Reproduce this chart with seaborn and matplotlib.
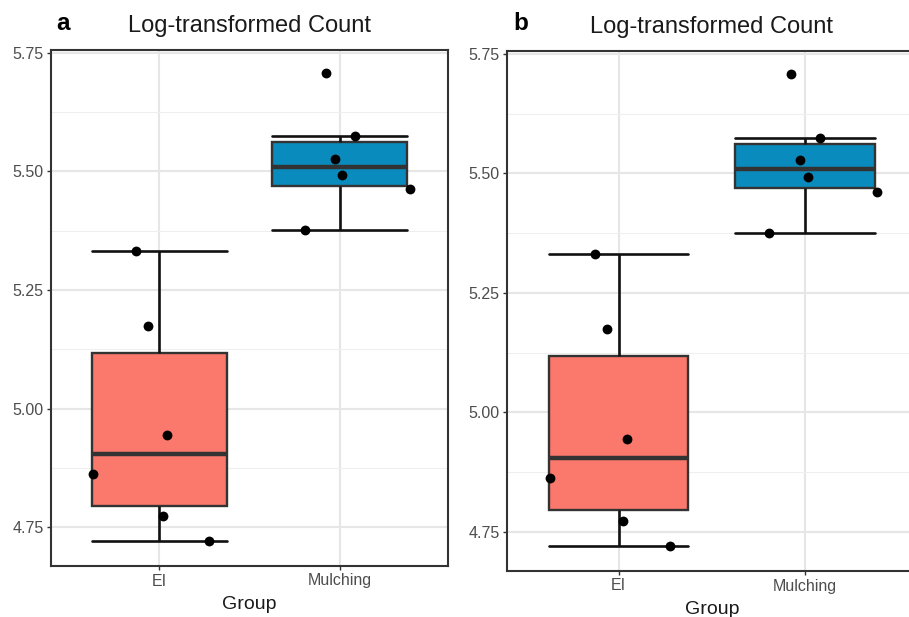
import numpy as np
import pandas as pd
import matplotlib
matplotlib.use("Agg")
import matplotlib.pyplot as plt
from matplotlib.ticker import FixedLocator
import seaborn as sns

# ---- data ----
groups = ["EI", "Mulching"]
ei_values = [5.332, 5.175, 4.945, 4.863, 4.773, 4.721]
mulch_values = [5.708, 5.574, 5.527, 5.492, 5.462, 5.376]
ei_jitter = [-0.128, -0.061, 0.044, -0.367, 0.022, 0.278]
mulch_jitter = [-0.074, 0.083, -0.024, 0.015, 0.390, -0.193]
y_ticks = [4.75, 5.00, 5.25, 5.50, 5.75]
y_tick_labels = ["4.75", "5.00", "5.25", "5.50", "5.75"]
panel_letters = ["a", "b"]
title = "Log-transformed Count"
xlabel = "Group"
colors = {"EI": "#FA786C", "Mulching": "#0A8BBE"}

df = pd.DataFrame({
    "Group": ["EI"] * len(ei_values) + ["Mulching"] * len(mulch_values),
    "value": ei_values + mulch_values,
    "jit": ei_jitter + mulch_jitter,
})
df["xpos"] = df["Group"].map({g: i for i, g in enumerate(groups)}) + df["jit"]

sns.set_theme(style="white")
plt.rcParams["font.family"] = ["Liberation Sans", "DejaVu Sans"]

W, H = 909, 617
fig = plt.figure(figsize=(W / 100, H / 100), dpi=100)

# pixel boxes: left, top, right, bottom
boxes = [(51, 50, 448, 566), (507, 51, 916.5, 571)]
letter_x = [56, 513]

for k, (l, t, r, b) in enumerate(boxes):
    ax = fig.add_axes([l / W, (H - b) / H, (r - l) / W, (b - t) / H])
    ax.set_axisbelow(True)
    sns.boxplot(
        data=df, x="Group", y="value", hue="Group", order=groups,
        hue_order=groups, palette=colors, width=0.75, showfliers=False,
        legend=False, ax=ax, saturation=1, whis=1.5,
        boxprops=dict(edgecolor="#333333", linewidth=1.7),
        medianprops=dict(color="#333333", linewidth=3.2),
        whiskerprops=dict(color="#111111", linewidth=1.9),
        capprops=dict(color="#111111", linewidth=1.9),
    )
    # widen caps to full box width (errorbar style)
    for line in ax.lines:
        xd = np.asarray(line.get_xdata(), dtype=float)
        yd = np.asarray(line.get_ydata(), dtype=float)
        if len(xd) == 2 and yd[0] == yd[1] and line.get_linewidth() < 2.5:
            c = xd.mean()
            line.set_xdata([c - 0.375, c + 0.375])
    sns.scatterplot(data=df, x="xpos", y="value", color="black", s=50,
                    edgecolor="black", linewidth=0, ax=ax, zorder=5)

    ax.set_xlim(-0.6, 1.6)
    ax.set_ylim(4.668, 5.756)
    ax.set_xticks(range(len(groups)))
    ax.set_xticklabels(groups)
    ax.yaxis.set_major_locator(FixedLocator(y_ticks))
    ax.set_yticklabels(y_tick_labels)
    ax.yaxis.set_minor_locator(FixedLocator([4.875, 5.125, 5.375, 5.625]))
    ax.grid(True, which="major", color="#E6E6E6", linewidth=1.5)
    ax.grid(True, which="minor", axis="y", color="#EFEFEF", linewidth=0.8)
    ax.tick_params(which="major", length=3.2, width=1.0, color="#333333",
                   labelsize=11.5, labelcolor="#4D4D4D", pad=2.2,
                   left=True, bottom=True)
    ax.tick_params(which="minor", length=0)
    for sp in ax.spines.values():
        sp.set_color("#333333")
        sp.set_linewidth(1.5)
        sp.set_visible(True)
    ax.set_ylabel("")
    ax.set_xlabel(xlabel, fontsize=14, color="#1A1A1A", labelpad=5.5)
    ax.set_title(title, fontsize=17, color="#1A1A1A", pad=13)
    fig.text(letter_x[k] / W, 1 - 24 / H, panel_letters[k], fontsize=17.5,
             fontweight="bold", color="black", va="center", ha="left")

fig.savefig("out.png", dpi=100)
